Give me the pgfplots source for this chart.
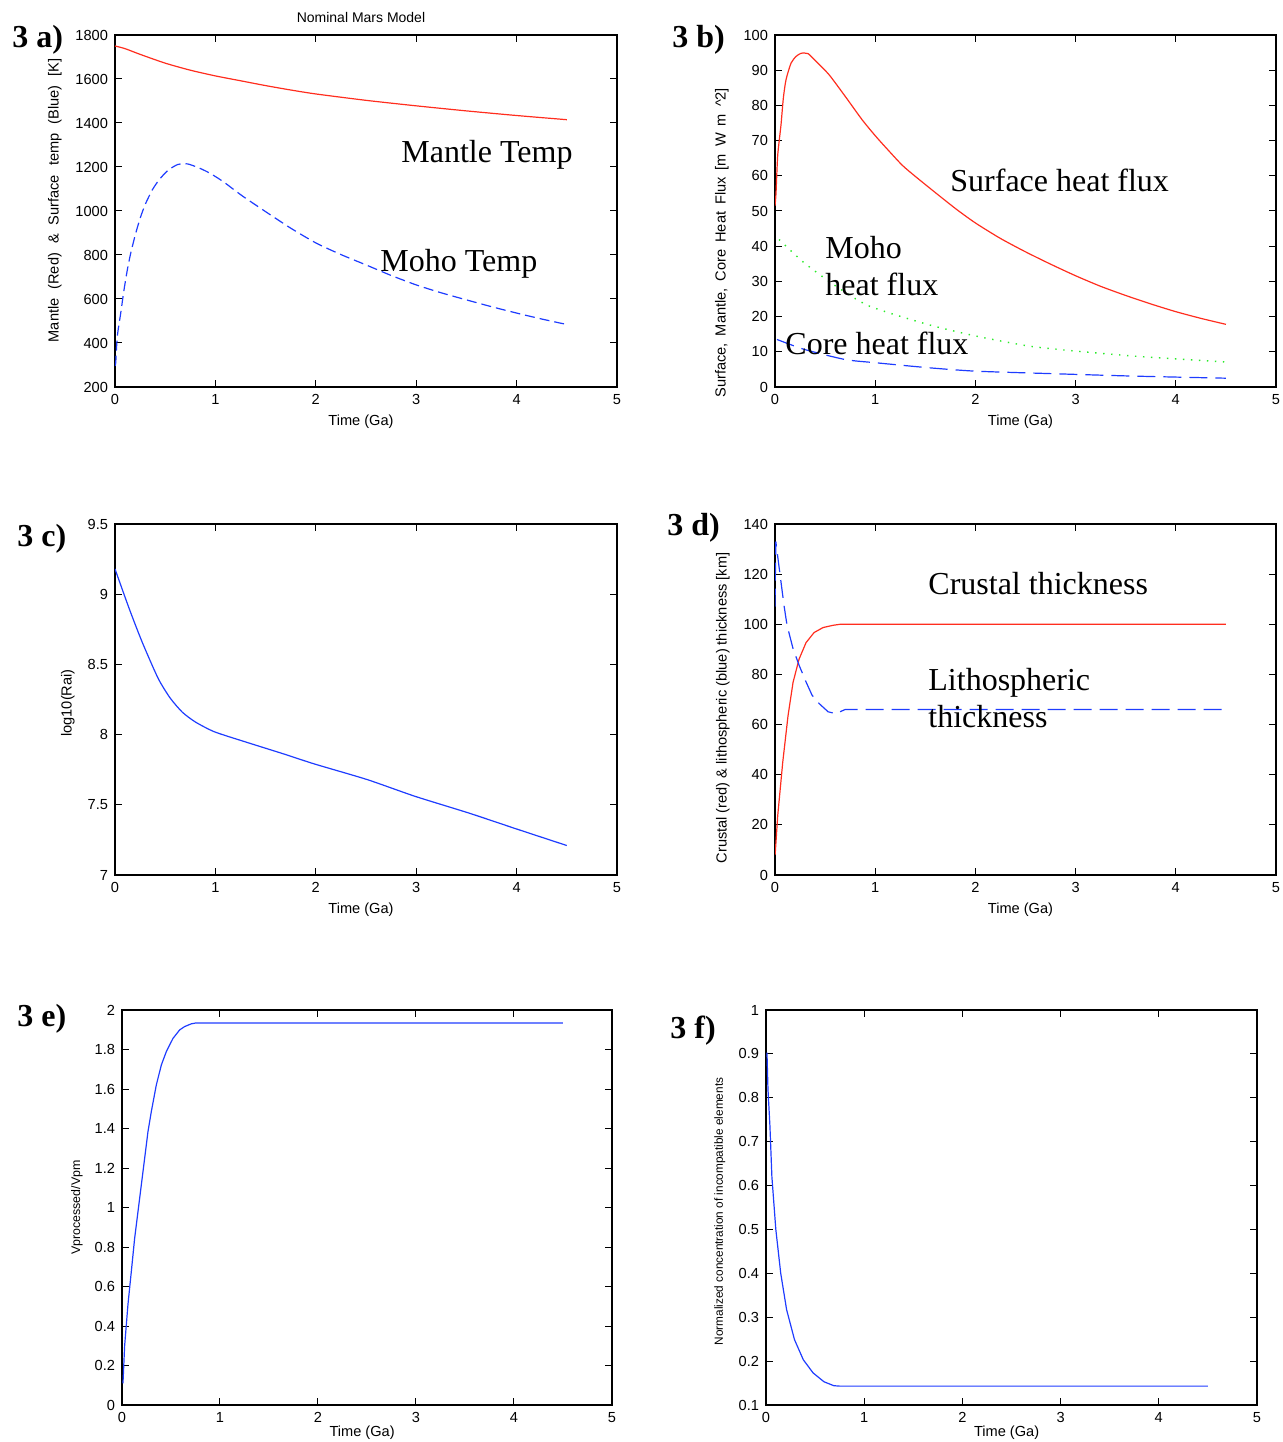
\documentclass[border=0pt]{standalone}
\usepackage{fontspec}
\setmainfont{Liberation Serif}
\setsansfont{Liberation Sans}
\usepackage{pgfplots}
\pgfplotsset{compat=1.18}

\definecolor{mred}{RGB}{255,45,30}
\definecolor{mblue}{RGB}{30,60,255}
\definecolor{mgreen}{RGB}{40,235,40}

\pgfplotsset{
  mars/.style={
    scale only axis,
    anchor=south west,
    xmin=0, xmax=5, xtick={0,1,2,3,4,5},
    tick align=inside, tick pos=both,
    major tick length=3.5pt,
    axis line style={line width=0.7pt},
    every tick/.style={black, line width=0.5pt},
    /pgf/number format/assume math mode=true,
    /pgf/number format/1000 sep={},
    tick label style={font=\sffamily\fontsize{7.3}{8}\selectfont},
    label style={font=\sffamily\fontsize{7.3}{8}\selectfont},
    xlabel={Time (Ga)},
    xlabel style={at={(axis description cs:0.49,-0.1)}, anchor=center},
  },
}
\tikzset{
  ann/.style={font=\fontsize{16}{18}\selectfont, anchor=base west, inner sep=0pt},
  pan/.style={font=\bfseries\fontsize{16}{18}\selectfont, anchor=base west, inner sep=0pt},
}

\begin{document}
\begin{tikzpicture}
\useasboundingbox (0,0) rectangle (641pt,721pt);

% 3 a)
\begin{axis}[mars, at={(57.5pt,527.5pt)}, width=251pt, height=176pt,
  ymin=200, ymax=1800, ytick={200,400,...,1800},
  ylabel={\spaceskip=4.5pt\relax Mantle (Red) \& Surface temp (Blue) [K]},
  ylabel style={at={(axis description cs:-0.12,0.53)}, anchor=center},
  title={Nominal Mars Model},
  title style={font=\sffamily\fontsize{7}{8}\selectfont, at={(axis description cs:0.49,1.05)}, anchor=center, yshift=-6pt}]
\addplot[mred, line width=0.6pt, smooth, tension=0.4] coordinates {
(0,1750)(0.1,1738)(0.25,1712)(0.5,1672)(0.75,1640)(1,1614)(1.25,1592)(1.5,1570)
(1.75,1550)(2,1532)(2.5,1503)(3,1478)(3.5,1455)(4,1434)(4.5,1415)};
\addplot[mblue, line width=0.6pt, dash pattern=on 5pt off 2.5pt, smooth, tension=0.4] coordinates {
(0,300)(0.007,309)(0.023,430)(0.057,536)(0.09,642)(0.123,733)(0.157,809)(0.207,900)
(0.257,976)(0.307,1036)(0.373,1097)(0.44,1142)(0.523,1183)(0.623,1211)(0.723,1214)
(0.84,1195)(0.94,1173)(1.073,1135)(1.273,1067)(1.507,995)(1.75,922)(2,855)(2.25,802)
(2.5,755)(2.75,707)(3,664)(3.25,628)(3.5,596)(3.75,565)(4,536)(4.25,509)(4.5,484)};
\end{axis}

% 3 b)
\begin{axis}[mars, at={(387.5pt,527.5pt)}, width=250.5pt, height=176pt,
  ymin=0, ymax=100, ytick={0,10,...,100},
  ylabel={\spaceskip=3.5pt\relax Surface, Mantle, Core Heat Flux [m W m \textasciicircum 2]},
  ylabel style={at={(axis description cs:-0.106,0.41)}, anchor=center}]
\addplot[mred, line width=0.6pt, smooth, tension=0.4] coordinates {
(0,51.5)(0.01,55)(0.027,65.8)(0.06,74.5)(0.083,82.0)(0.11,87.3)(0.16,92.0)(0.21,93.9)
(0.26,94.8)(0.33,94.7)(0.41,92.5)(0.54,88.7)(0.71,82.2)(0.87,75.9)(1.0,71.4)(1.11,67.9)
(1.27,63.0)(1.41,59.6)(1.61,55.0)(1.81,50.5)(2.0,46.6)(2.25,42.2)(2.5,38.4)(2.75,34.9)
(3,31.6)(3.25,28.6)(3.5,26.0)(3.75,23.6)(4,21.4)(4.25,19.5)(4.5,17.8)};
\addplot[mgreen, line width=0.7pt, dash pattern=on 0.7pt off 3.3pt, smooth, tension=0.4] coordinates {
(0.04,41.9)(0.29,35.3)(0.61,28.6)(0.94,23.0)(1.52,17.8)(2.0,14.5)(2.54,11.6)
(3.0,10.2)(3.57,8.8)(4.0,8.0)(4.5,7.1)};
\addplot[mblue, line width=0.6pt, dash pattern=on 9pt off 4pt, smooth, tension=0.4] coordinates {
(0.02,13.5)(0.29,10.7)(0.7,7.8)(1.0,6.9)(1.52,5.5)(2.0,4.5)(2.75,3.8)(3.57,3.1)(4.5,2.5)};
\end{axis}

% 3 c)
\begin{axis}[mars, at={(57.5pt,283.5pt)}, width=251pt, height=175.5pt,
  ymin=7, ymax=9.5, ytick={7,7.5,...,9.5},
  ylabel={log10(Rai)},
  ylabel style={at={(axis description cs:-0.094,0.49)}, anchor=center}]
\addplot[mblue, line width=0.6pt, smooth, tension=0.4] coordinates {
(0,9.18)(0.14,8.90)(0.27,8.66)(0.43,8.40)(0.55,8.26)(0.67,8.16)(0.8,8.09)(0.99,8.02)
(1.29,7.95)(1.69,7.86)(1.99,7.79)(2.51,7.68)(2.99,7.56)(3.53,7.44)(3.99,7.33)(4.5,7.21)};
\end{axis}

% 3 d)
\begin{axis}[mars, at={(387.5pt,283.5pt)}, width=250.5pt, height=175.5pt,
  ymin=0, ymax=140, ytick={0,20,...,140},
  ylabel={Crustal (red) \& lithospheric (blue) thickness [km]},
  ylabel style={at={(axis description cs:-0.104,0.476)}, anchor=center}]
\addplot[mred, line width=0.6pt] coordinates {
(0,8)(0.003,9)(0.027,23.6)(0.077,44.9)(0.13,63.5)(0.18,76.8)(0.24,86.1)(0.31,92.7)
(0.39,96.7)(0.48,98.7)(0.58,99.6)(0.65,100)(1,100)(2,100)(3,100)(4,100)(4.5,100)};
\addplot[mblue, line width=0.6pt, dash pattern=on 9pt off 4pt] coordinates {
(0,107)(0.008,133)(0.06,116.8)(0.09,107.5)(0.12,99.6)(0.18,90.3)(0.24,83.7)(0.31,77.0)
(0.37,71.7)(0.44,68.4)(0.53,65.1)(0.61,64.3)(0.66,65.3)(0.7,66)(1,66)(2,66)(3,66)(4,66)(4.5,66)};
\end{axis}

% 3 e)
\begin{axis}[mars, at={(61pt,18.5pt)}, width=245pt, height=197.5pt,
  ymin=0, ymax=2, ytick={0,0.2,...,2.01},
  yticklabels={0,0.2,0.4,0.6,0.8,1,1.2,1.4,1.6,1.8,2},
  ylabel={Vprocessed/Vpm},
  ylabel style={font=\sffamily\fontsize{6.2}{7}\selectfont, at={(axis description cs:-0.092,0.5)}, anchor=center},
  xlabel style={at={(axis description cs:0.49,-0.07)}, anchor=center}]
\addplot[mblue, line width=0.6pt] coordinates {
(0.01,0.11)(0.027,0.30)(0.061,0.51)(0.095,0.675)(0.129,0.844)(0.163,0.979)(0.197,1.114)
(0.231,1.249)(0.265,1.384)(0.299,1.485)(0.35,1.62)(0.401,1.721)(0.452,1.789)(0.52,1.856)
(0.588,1.899)(0.639,1.916)(0.707,1.93)(0.75,1.934)(1,1.934)(2,1.934)(3,1.934)(4,1.934)(4.5,1.934)};
\end{axis}

% 3 f)
\begin{axis}[mars, at={(383pt,18.5pt)}, width=245.5pt, height=197.5pt,
  ymin=0.1, ymax=1, ytick={0.1,0.2,...,1.01},
  yticklabels={0.1,0.2,0.3,0.4,0.5,0.6,0.7,0.8,0.9,1},
  ylabel={Normalized concentration of incompatible elements},
  ylabel style={font=\sffamily\fontsize{5.9}{6.5}\selectfont, at={(axis description cs:-0.094,0.49)}, anchor=center},
  xlabel style={at={(axis description cs:0.49,-0.07)}, anchor=center}]
\addplot[mblue, line width=0.6pt] coordinates {
(0.01,0.903)(0.02,0.82)(0.04,0.736)(0.06,0.62)(0.1,0.5)(0.15,0.40)(0.21,0.317)(0.29,0.249)
(0.38,0.203)(0.48,0.173)(0.59,0.153)(0.69,0.144)(0.75,0.143)(1,0.143)(2,0.143)(3,0.143)(4,0.143)(4.5,0.143)};
\end{axis}

% annotations
\node[ann] at (200.5pt,639.5pt) {Mantle Temp};
\node[ann] at (190pt,585pt) {Moho Temp};
\node[ann] at (475pt,625pt) {Surface heat flux};
\node[ann] at (412.5pt,591.5pt) {Moho};
\node[ann] at (412.5pt,573pt) {heat flux};
\node[ann] at (392.5pt,543.5pt) {Core heat flux};
\node[ann] at (464pt,423.5pt) {Crustal thickness};
\node[ann] at (464pt,375.5pt) {Lithospheric};
\node[ann] at (464pt,357pt) {thickness};

\node[pan] at (6pt,697pt) {3 a)};
\node[pan] at (336pt,697pt) {3 b)};
\node[pan] at (8.5pt,447.5pt) {3 c)};
\node[pan] at (333.5pt,453pt) {3 d)};
\node[pan] at (8.5pt,207.5pt) {3 e)};
\node[pan] at (335pt,201.5pt) {3 f)};
\end{tikzpicture}
\end{document}
